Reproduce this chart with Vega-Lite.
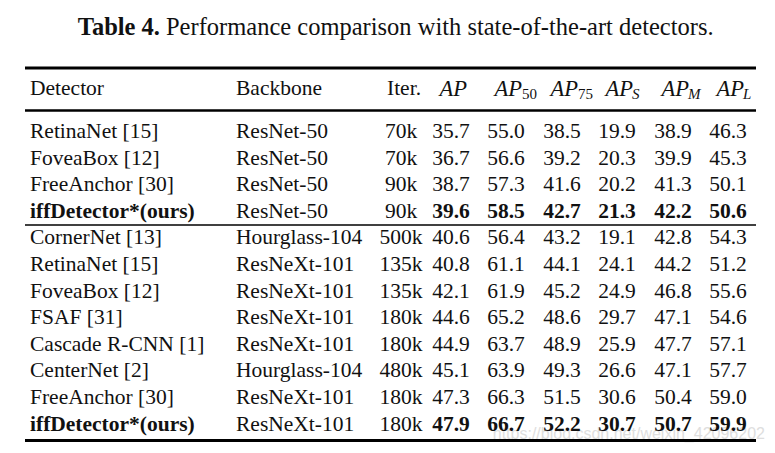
{
  "$schema": "https://vega.github.io/schema/vega-lite/v6.json",
  "width": 775,
  "height": 453,
  "autosize": {"type": "fit", "contains": "padding"},
  "padding": 0,
  "background": "white",
  "config": {"view": {"stroke": null}, "text": {"font": "Liberation Serif", "fontSize": 21.5, "color": "#111", "baseline": "middle"}},
  "datasets": {
    "tbl": [
      {"r": 1, "det": "RetinaNet [15]", "bb": "ResNet-50", "it": "70k", "AP": 35.7, "AP50": 55.0, "AP75": 38.5, "APS": 19.9, "APM": 38.9, "APL": 46.3, "ours": false},
      {"r": 2, "det": "FoveaBox [12]", "bb": "ResNet-50", "it": "70k", "AP": 36.7, "AP50": 56.6, "AP75": 39.2, "APS": 20.3, "APM": 39.9, "APL": 45.3, "ours": false},
      {"r": 3, "det": "FreeAnchor [30]", "bb": "ResNet-50", "it": "90k", "AP": 38.7, "AP50": 57.3, "AP75": 41.6, "APS": 20.2, "APM": 41.3, "APL": 50.1, "ours": false},
      {"r": 4, "det": "iffDetector*(ours)", "bb": "ResNet-50", "it": "90k", "AP": 39.6, "AP50": 58.5, "AP75": 42.7, "APS": 21.3, "APM": 42.2, "APL": 50.6, "ours": true},
      {"r": 5, "det": "CornerNet [13]", "bb": "Hourglass-104", "it": "500k", "AP": 40.6, "AP50": 56.4, "AP75": 43.2, "APS": 19.1, "APM": 42.8, "APL": 54.3, "ours": false},
      {"r": 6, "det": "RetinaNet [15]", "bb": "ResNeXt-101", "it": "135k", "AP": 40.8, "AP50": 61.1, "AP75": 44.1, "APS": 24.1, "APM": 44.2, "APL": 51.2, "ours": false},
      {"r": 7, "det": "FoveaBox [12]", "bb": "ResNeXt-101", "it": "135k", "AP": 42.1, "AP50": 61.9, "AP75": 45.2, "APS": 24.9, "APM": 46.8, "APL": 55.6, "ours": false},
      {"r": 8, "det": "FSAF [31]", "bb": "ResNeXt-101", "it": "180k", "AP": 44.6, "AP50": 65.2, "AP75": 48.6, "APS": 29.7, "APM": 47.1, "APL": 54.6, "ours": false},
      {"r": 9, "det": "Cascade R-CNN [1]", "bb": "ResNeXt-101", "it": "180k", "AP": 44.9, "AP50": 63.7, "AP75": 48.9, "APS": 25.9, "APM": 47.7, "APL": 57.1, "ours": false},
      {"r": 10, "det": "CenterNet [2]", "bb": "Hourglass-104", "it": "480k", "AP": 45.1, "AP50": 63.9, "AP75": 49.3, "APS": 26.6, "APM": 47.1, "APL": 57.7, "ours": false},
      {"r": 11, "det": "FreeAnchor [30]", "bb": "ResNeXt-101", "it": "180k", "AP": 47.3, "AP50": 66.3, "AP75": 51.5, "APS": 30.6, "APM": 50.4, "APL": 59.0, "ours": false},
      {"r": 12, "det": "iffDetector*(ours)", "bb": "ResNeXt-101", "it": "180k", "AP": 47.9, "AP50": 66.7, "AP75": 52.2, "APS": 30.7, "APM": 50.7, "APL": 59.9, "ours": true}
    ],
    "cols": [
      {"key": "AP", "c": 3}, {"key": "AP50", "c": 4}, {"key": "AP75", "c": 5},
      {"key": "APS", "c": 6}, {"key": "APM", "c": 7}, {"key": "APL", "c": 8}
    ],
    "hdr": [
      {"c": 0, "label": "Detector"}, {"c": 1, "label": "Backbone"}, {"c": 2, "label": "Iter."}
    ],
    "aph": [
      {"c": 3, "main": "AP", "sub": ""}, {"c": 4, "main": "AP", "sub": "50"}, {"c": 5, "main": "AP", "sub": "75"},
      {"c": 6, "main": "AP", "sub": "S"}, {"c": 7, "main": "AP", "sub": "M"}, {"c": 8, "main": "AP", "sub": "L"}
    ]
  },
  "layer": [
    {
      "data": {"values": [{"t": "Table 4."}]},
      "mark": {"type": "text", "align": "right", "fontWeight": "bold", "fontSize": 24.5},
      "encoding": {
        "x": {"datum": 0.631, "type": "quantitative", "scale": {"domain": [-1, 0, 1, 2, 3, 4, 5, 6, 7, 8, 9], "range": [25, 30, 236, 401, 451, 506, 562, 617, 673, 728, 756], "nice": false, "zero": false}, "axis": null},
        "y": {"datum": -2, "type": "quantitative", "scale": {"domain": [-2, -1, 0, 1, 12], "range": [28, 68, 89, 132, 424.5], "nice": false, "zero": false}, "axis": null},
        "text": {"field": "t"}
      }
    },
    {
      "data": {"values": [{"t": "Performance comparison with state-of-the-art detectors."}]},
      "mark": {"type": "text", "align": "left", "fontSize": 24.5, "dx": 6},
      "encoding": {
        "x": {"datum": 0.631, "type": "quantitative"},
        "y": {"datum": -2, "type": "quantitative"},
        "text": {"field": "t"}
      }
    },
    {
      "data": {"values": [{"t": "https://blog.csdn.net/weixin_42096202"}]},
      "mark": {"type": "text", "align": "right", "font": "Liberation Sans", "fontSize": 16, "color": "#dedede"},
      "encoding": {
        "x": {"datum": 9.32, "type": "quantitative"},
        "y": {"datum": 12.36, "type": "quantitative"},
        "text": {"field": "t"}
      }
    },
    {
      "data": {"values": [{}]},
      "mark": {"type": "rule", "strokeWidth": 3, "color": "#000"},
      "encoding": {"x": {"datum": -1, "type": "quantitative"}, "x2": {"datum": 9}, "y": {"datum": -1, "type": "quantitative"}}
    },
    {
      "data": {"values": [{}]},
      "mark": {"type": "rule", "strokeWidth": 2.5, "color": "#000"},
      "encoding": {"x": {"datum": -1, "type": "quantitative"}, "x2": {"datum": 9}, "y": {"datum": 0.5, "type": "quantitative"}}
    },
    {
      "data": {"values": [{}]},
      "mark": {"type": "rule", "strokeWidth": 1.5, "color": "#000"},
      "encoding": {"x": {"datum": -1, "type": "quantitative"}, "x2": {"datum": 9}, "y": {"datum": 4.5, "type": "quantitative"}}
    },
    {
      "data": {"values": [{}]},
      "mark": {"type": "rule", "strokeWidth": 3, "color": "#000"},
      "encoding": {"x": {"datum": -1, "type": "quantitative"}, "x2": {"datum": 9}, "y": {"datum": 12.6, "type": "quantitative"}}
    },
    {
      "data": {"name": "hdr"},
      "transform": [{"filter": "datum.c < 2"}],
      "mark": {"type": "text", "align": "left"},
      "encoding": {"x": {"field": "c", "type": "quantitative"}, "y": {"datum": 0, "type": "quantitative"}, "text": {"field": "label"}}
    },
    {
      "data": {"name": "hdr"},
      "transform": [{"filter": "datum.c == 2"}],
      "mark": {"type": "text", "align": "center", "dx": 3},
      "encoding": {"x": {"field": "c", "type": "quantitative"}, "y": {"datum": 0, "type": "quantitative"}, "text": {"field": "label"}}
    },
    {
      "data": {"name": "aph"},
      "mark": {"type": "text", "align": "right", "fontStyle": "italic", "fontSize": 22.5, "dx": 16},
      "encoding": {"x": {"field": "c", "type": "quantitative"}, "y": {"datum": 0, "type": "quantitative"}, "text": {"field": "main"}}
    },
    {
      "data": {"name": "aph"},
      "transform": [{"filter": "datum.c == 4 || datum.c == 5"}],
      "mark": {"type": "text", "align": "left", "fontSize": 15, "dx": 16, "dy": 5},
      "encoding": {"x": {"field": "c", "type": "quantitative"}, "y": {"datum": 0, "type": "quantitative"}, "text": {"field": "sub"}}
    },
    {
      "data": {"name": "aph"},
      "transform": [{"filter": "datum.c >= 6"}],
      "mark": {"type": "text", "align": "left", "fontSize": 15, "fontStyle": "italic", "dx": 15, "dy": 5},
      "encoding": {"x": {"field": "c", "type": "quantitative"}, "y": {"datum": 0, "type": "quantitative"}, "text": {"field": "sub"}}
    },
    {
      "data": {"name": "tbl"},
      "transform": [{"filter": "!datum.ours"}],
      "mark": {"type": "text", "align": "left"},
      "encoding": {"x": {"datum": 0, "type": "quantitative"}, "y": {"field": "r", "type": "quantitative"}, "text": {"field": "det"}}
    },
    {
      "data": {"name": "tbl"},
      "transform": [{"filter": "datum.ours"}],
      "mark": {"type": "text", "align": "left", "fontWeight": "bold"},
      "encoding": {"x": {"datum": 0, "type": "quantitative"}, "y": {"field": "r", "type": "quantitative"}, "text": {"field": "det"}}
    },
    {
      "data": {"name": "tbl"},
      "mark": {"type": "text", "align": "left"},
      "encoding": {"x": {"datum": 1, "type": "quantitative"}, "y": {"field": "r", "type": "quantitative"}, "text": {"field": "bb"}}
    },
    {
      "data": {"name": "tbl"},
      "mark": {"type": "text", "align": "center"},
      "encoding": {"x": {"datum": 2, "type": "quantitative"}, "y": {"field": "r", "type": "quantitative"}, "text": {"field": "it"}}
    },
    {
      "data": {"name": "tbl"},
      "transform": [
        {"filter": "!datum.ours"},
        {"fold": ["AP", "AP50", "AP75", "APS", "APM", "APL"], "as": ["key", "val"]},
        {"lookup": "key", "from": {"data": {"name": "cols"}, "key": "key", "fields": ["c"]}}
      ],
      "mark": {"type": "text", "align": "center"},
      "encoding": {"x": {"field": "c", "type": "quantitative"}, "y": {"field": "r", "type": "quantitative"}, "text": {"field": "val", "type": "quantitative", "format": ".1f"}}
    },
    {
      "data": {"name": "tbl"},
      "transform": [
        {"filter": "datum.ours"},
        {"fold": ["AP", "AP50", "AP75", "APS", "APM", "APL"], "as": ["key", "val"]},
        {"lookup": "key", "from": {"data": {"name": "cols"}, "key": "key", "fields": ["c"]}}
      ],
      "mark": {"type": "text", "align": "center", "fontWeight": "bold"},
      "encoding": {"x": {"field": "c", "type": "quantitative"}, "y": {"field": "r", "type": "quantitative"}, "text": {"field": "val", "type": "quantitative", "format": ".1f"}}
    }
  ]
}
